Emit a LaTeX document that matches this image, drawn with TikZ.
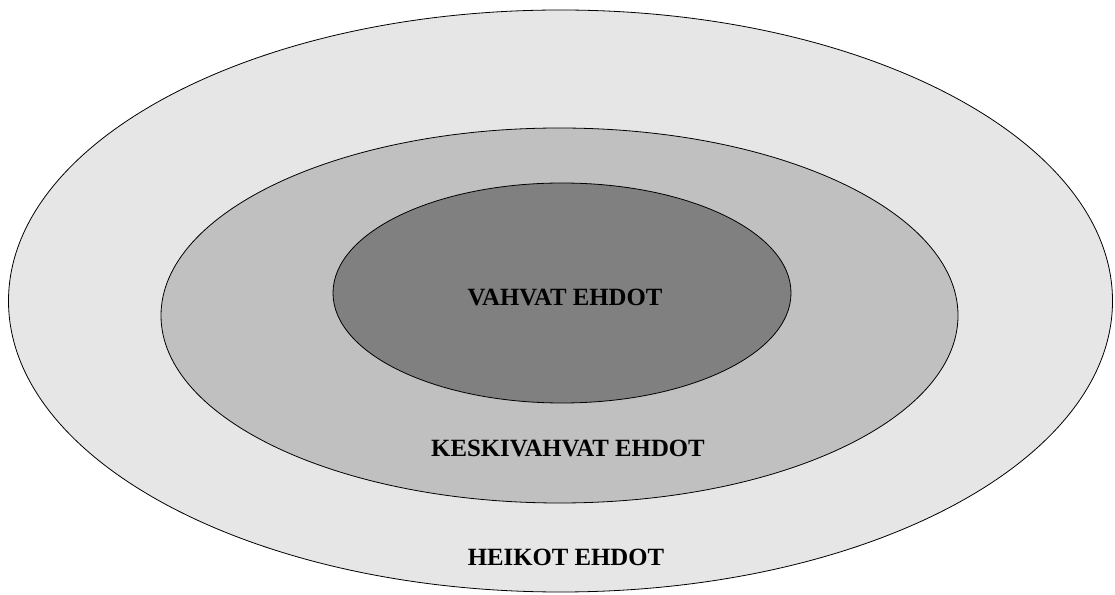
\documentclass[tikz,border=0pt]{standalone}
\usepackage{fontspec}
\setmainfont{Liberation Serif}
\usepackage{tikz}
\usetikzlibrary{shapes.geometric, positioning}
\definecolor{weakgray}{HTML}{E6E6E6}
\definecolor{midgray}{HTML}{C0C0C0}
\definecolor{stronggray}{HTML}{808080}
\tikzset{
    zone/.style={ellipse, draw=black, line width=0.8pt, inner sep=0pt},
    zonelabel/.style={inner sep=0pt, font=\fontsize{24.8}{29}\selectfont\bfseries},
}
\begin{document}
\begin{tikzpicture}[x=1pt, y=1pt]
    \useasboundingbox (0,0) rectangle (1115,594);

    % Nested condition zones, outermost first
    \node[zone, fill=weakgray, minimum width=1104pt, minimum height=582pt] (weak) at (560.5,293) {};
    \node[zone, fill=midgray, minimum width=797pt, minimum height=375pt] (medium) at (559.5,278.5) {};
    \node[zone, fill=stronggray, minimum width=458pt, minimum height=220pt] (strong) at (562,301) {};

    % Labels
    \node[zonelabel] (stronglabel) at (565,297) {VAHVAT EHDOT};
    \node[zonelabel] (mediumlabel) at (568,145.5) {KESKIVAHVAT EHDOT};
    \node[zonelabel] (weaklabel) at (566,37) {HEIKOT EHDOT};
\end{tikzpicture}
\end{document}
